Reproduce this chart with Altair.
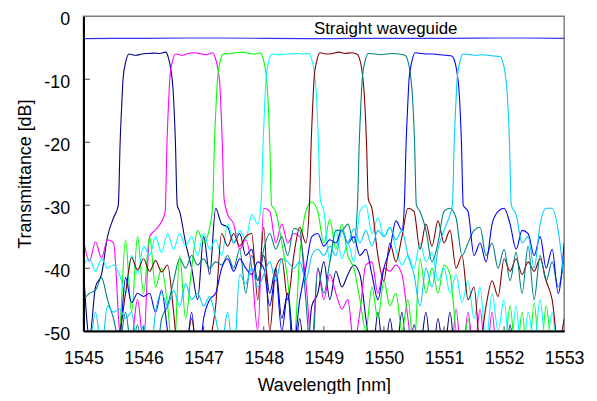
import altair as alt
import pandas as pd

N = None

# wavelength grid of the out-of-band floor readings (nm)
grid_start = 1545.0
grid_step = 0.1
grid_count = 81

# ---- out-of-band floor readings (dB), one per grid point; None = inside passband
floor_ch1 = [-40, -51, -43, -41, -35, -32,
             N, N, N, N, N, N, N, N, N, N,
             -31, -36, -40, -45, -35, -41, -30.5, -33, -33.5, -36, -34.5, -38,
             -37, -42, -38, -44, -40, -48, -44, -55, -48, -56, -46, -44, -39, -45,
             -40.5, -43, -41, -39.5, -41, -48, -55, -47, -55,
             -48, -54, -47, -56, -49, -53, -47, -55, -48, -54, -47, -55, -52, -58, -50,
             -56, -53, -58, -55, -57, -49, -56, -52, -58, -54, -57, -55, -58, -53, -56]
floor_ch2 = [-35.5, -38.9, -35.8, -38.4, -35.5, -36, -50, -55, -52, -45, -52, -35, -33.9, -32.6,
             N, N, N, N, N, N, N, N, N, N,
             -31.5, -33, -37, -35.5,
             -40, -50, -30.5, -31, -36, -33, -36, -34.5, -35, -42, -52, -40, -45, -41,
             -44, -46.5, -45, -52, -47, -39.5, -39, -44, -40, -40.5, -39.5, -41, -48, -55,
             -51, -56, -50, -55, -53, -57, -46.5, -55, -47, -54, -46.5, -55, -47, -56, -53,
             -57, -54, -58, -55, -57, -55, -58, -56, -57, -58]
floor_ch3 = [-58, -56, -57, -55, -56, -53, -50, -35.5, -47, -35, -44, -35, -43, -40, -46, -55,
             -38, -48, -40, -34, -36, -33.5,
             N, N, N, N, N, N, N, N, N, N,
             -31, -36, -42, -52, -38, -31, -29.5, -31, -36, -32.3, -37, -33, -38, -40, -45,
             -50, -43, -48, -42, -46, -44, -50, -45, -53, -38.5, -44, -40, -44, -39.5,
             -41, -50, -56, -48, -56, -50, -57, -52, -58, -55, -46, -55, -47, -56, -45.5,
             -55, -46, -54, -56, -53]
floor_ch4 = [-39.5, -38.5, -40.5, -38.5, -40, -39.5, -41, -44, -38, -41,
             -36.5, -38, -35, -37.5, -34.5, -37, -34.5, -36.5, -35, -38,
             -34.5, -37, -35.5, -38, -33, -36, -34, -35.5, -31.5, -33,
             N, N, N, N, N, N, N, N, N, N,
             -31, -39, -34, -38.5, -36, -39, -31, -30, -34.5, -32,
             -35, -33.5, -37, -39.5, -38, -40, -36, -39, -37.5, -42,
             -40, -44, -41, -45.5, -42, -48, -43, -52, -44, -50,
             -45, -54, -46, -55, -47, -52, -45, -53, -47, -55, -50]
floor_ch5 = [-58, -57, -56, -55, -53, -51, -50, -44, -38.3, -40.3, -38.5, -40.5, -38.8, -40.6,
             -39.5, -47, -56, -54, -48, -55, -56, -52, -46, -34.5, -36.5, -34.5, -36.5, -35,
             -34.5, -45, -33.5, -50, -40, -38.5, -45, -38, -33.5, -36,
             N, N, N, N, N, N, N, N, N, N,
             -30.5, -38, -42, -36, -39, -35, -30.5, -31, -37, -33,
             -36.5, -32.5, -36, -34, -40, -38, -45, -43, -52, -46, -42, -44.5, -38.5, -40.5,
             -38.5, -41, -39, -40.5, -38.5, -42, -45, -52, -48]
floor_ch6 = [-45, -44, -43.5, -41.5, -45, -48, -52, -47, -53, -49, -56, -50, -55, -48,
             -46, -42, -38.5, -40, -38, -39.5, -38.5, -40, -39, -39.5, -38, -40, -37, -44,
             -38, -42, -37, -34.5, -37, -35, -38, -33.7, -34, -45, -55, -40, -44, -39,
             -34, -34, -33, -36,
             N, N, N, N, N, N, N, N, N, N,
             -31, -34, -39, -36, -31, -30.5, -32, -38, -36, -34, -33.5, -38, -36, -40,
             -37, -42, -37.5, -44, -36.5, -45, -38, -42, -39, -43, -38.5]
floor_ch7 = [-56, -58, -57, -55, -56, -54, -52, -41.5, -45.5, -44, -44.5, -44, -47, -43.5,
             -50, -55, -52, -54, -47, -56, -48, -45, -44, -40, -38.5, -40.5, -38.5, -40,
             -41, -39, -40, -46, -41, -50, -44, -52, -45, -40, -35, -34.5, -36.5, -35.5,
             -36, -34, -36, -35, -38, -37, -41, -45, -40, -37, -32.5, -34,
             N, N, N, N, N, N, N, N, N, N,
             -31, -38, -36, -39, -33, -31, -30.5, -33, -37, -34, -34.5, -38, -35, -40,
             -37, -44, -36]
floor_ch8 = [-49, -52, -47, -53, -46, -47, -46.5, -48, -47, -53, -49, -55, -47, -44,
             -46, -43.5, -46, -42.5, -45, -44, -46, -44.5, -48, -52, -47, -55, -41, -42.5,
             -40, -43, -41, -39, -42, -38.5, -39, -40, -39, -42, -38, -37, -38, -36.5,
             -38, -34, -36, -33.7, -36, -34, -36.5, -34, -35, -33.5, -35.5, -34, -38, -41,
             -46, -40, -43, -37, -34, -31.5,
             N, N, N, N, N, N, N, N, N, N,
             -31.5, -36, -35, -40, -33, -30.5, -30.5, -34, -42]

# ---- passband readings: wavelengths (nm) and transmittance (dB)
band_wl_ch1 = [1545.58, 1545.61, 1545.64, 1545.66, 1545.70, 1545.76, 1545.87, 1545.97, 1546.07,
               1546.17, 1546.27, 1546.37, 1546.41, 1546.45, 1546.49, 1546.53, 1546.56]
band_db_ch1 = [-30, -20, -13.4, -9.8, -7.4, -6.0, -6.2, -6.0, -5.9, -5.85, -5.9, -5.7, -6.5, -8.2, -11.5, -20, -30]
band_wl_ch2 = [1546.36, 1546.39, 1546.42, 1546.44, 1546.48, 1546.54, 1546.65, 1546.75, 1546.85,
               1546.95, 1547.05, 1547.15, 1547.19, 1547.23, 1547.27, 1547.31, 1547.34]
band_db_ch2 = [-31, -20, -13, -9.5, -7.2, -6.0, -6.2, -5.9, -5.8, -5.95, -6.1, -5.8, -6.5, -8.0, -11.0, -20, -29]
band_wl_ch3 = [1547.15, 1547.18, 1547.21, 1547.23, 1547.27, 1547.33, 1547.44, 1547.54, 1547.64,
               1547.74, 1547.84, 1547.94, 1547.98, 1548.02, 1548.06, 1548.10, 1548.13]
band_db_ch3 = [-30, -20, -13.5, -10, -7.4, -6.0, -5.9, -5.8, -5.7, -5.85, -6.0, -5.8, -6.4, -8.0, -11.5, -20, -30]
band_wl_ch4 = [1547.96, 1547.99, 1548.02, 1548.04, 1548.08, 1548.14, 1548.25, 1548.35, 1548.45,
               1548.55, 1548.65, 1548.75, 1548.79, 1548.83, 1548.87, 1548.91, 1548.94]
band_db_ch4 = [-29, -20, -13, -9.8, -7.3, -6.0, -6.1, -6.0, -6.0, -5.9, -6.0, -5.9, -6.6, -8.2, -11.5, -20, -29]
band_wl_ch5 = [1548.76, 1548.79, 1548.82, 1548.84, 1548.88, 1548.94, 1549.05, 1549.15, 1549.25,
               1549.35, 1549.45, 1549.55, 1549.59, 1549.63, 1549.67, 1549.71, 1549.74]
band_db_ch5 = [-30, -20, -13.2, -9.6, -7.2, -5.8, -6.0, -5.9, -5.7, -5.9, -5.8, -6.0, -6.6, -8.3, -12, -20, -29]
band_wl_ch6 = [1549.56, 1549.59, 1549.62, 1549.64, 1549.68, 1549.74, 1549.85, 1549.95, 1550.05,
               1550.15, 1550.25, 1550.35, 1550.39, 1550.43, 1550.47, 1550.51, 1550.54]
band_db_ch6 = [-30, -20, -13.4, -9.8, -7.4, -5.9, -6.0, -6.1, -6.0, -5.9, -6.0, -6.2, -6.8, -8.5, -12, -20, -30]
band_wl_ch7 = [1550.34, 1550.37, 1550.40, 1550.42, 1550.46, 1550.52, 1550.63, 1550.73, 1550.83,
               1550.93, 1551.03, 1551.13, 1551.17, 1551.21, 1551.25, 1551.29, 1551.32]
band_db_ch7 = [-30, -20, -13.4, -9.8, -7.4, -5.8, -5.9, -6.0, -6.0, -6.1, -6.2, -6.3, -6.9, -8.5, -11.8, -20, -30]
band_wl_ch8 = [1551.14, 1551.17, 1551.20, 1551.22, 1551.26, 1551.32, 1551.43, 1551.53, 1551.63,
               1551.73, 1551.83, 1551.93, 1551.97, 1552.01, 1552.05, 1552.09, 1552.12]
band_db_ch8 = [-30, -20, -13.4, -9.8, -7.4, -6.0, -6.1, -6.2, -6.1, -6.2, -6.3, -6.4, -7.0, -8.6, -12, -20, -30]

# straight waveguide reference
wg_wl = [1545, 1546, 1547, 1548, 1549, 1550, 1551, 1552, 1553]
wg_db = [-3.55, -3.5, -3.45, -3.5, -3.55, -3.5, -3.5, -3.45, -3.5]

colors = ["#000080", "#FF00FF", "#00FF00", "#00FFFF", "#800000", "#008080", "#0000FF", "#00CCFF"]
floors = [floor_ch1, floor_ch2, floor_ch3, floor_ch4, floor_ch5, floor_ch6, floor_ch7, floor_ch8]
band_wls = [band_wl_ch1, band_wl_ch2, band_wl_ch3, band_wl_ch4, band_wl_ch5, band_wl_ch6, band_wl_ch7, band_wl_ch8]
band_dbs = [band_db_ch1, band_db_ch2, band_db_ch3, band_db_ch4, band_db_ch5, band_db_ch6, band_db_ch7, band_db_ch8]

x_ticks = [1545, 1546, 1547, 1548, 1549, 1550, 1551, 1552, 1553]
y_ticks = [-50, -40, -30, -20, -10, 0]
inner_x_ticks = [1546, 1547, 1548, 1549, 1550, 1551, 1552]
inner_y_ticks = [-40, -30, -20, -10]

FONT = "Liberation Sans"
wl_grid = [round(grid_start + grid_step * i, 2) for i in range(grid_count)]

x_scale = alt.Scale(domain=[1545, 1553], nice=False, zero=False)
y_scale = alt.Scale(domain=[-50, 0], nice=False, zero=False)

x_axis = alt.Axis(values=x_ticks, labelExpr="'' + datum.value", title="Wavelength [nm]",
                  ticks=False, tickSize=0, labelPadding=19, titlePadding=9,
                  labelFlush=False, labelOverlap=False, grid=False,
                  domainColor="black", domainWidth=2, zindex=1)
y_axis = alt.Axis(values=y_ticks, labelExpr="'' + datum.value", title="Transmittance [dB]",
                  ticks=False, tickSize=0, labelPadding=14, titlePadding=9, labelOffset=3,
                  labelFlush=False, labelOverlap=False, grid=False,
                  domainColor="black", domainWidth=2, zindex=1)

X = alt.X("wl:Q", scale=x_scale, axis=x_axis)
Y = alt.Y("db:Q", scale=y_scale, axis=y_axis)

layers = []
for col, fl, bw, bd in zip(colors, floors, band_wls, band_dbs):
    rows = [(w, v) for w, v in zip(wl_grid, fl) if v is not None] + list(zip(bw, bd))
    rows.sort()
    df = pd.DataFrame(rows, columns=["wl", "db"])
    layers.append(alt.Chart(df).mark_line(color=col, strokeWidth=1.1, clip=True,
                                          interpolate="monotone").encode(x=X, y=Y))

wg_df = pd.DataFrame({"wl": wg_wl, "db": wg_db})
layers.append(alt.Chart(wg_df).mark_line(color="#3333EE", strokeWidth=1.2, clip=True,
                                         interpolate="monotone").encode(x=X, y=Y))

label_df = pd.DataFrame({"wl": [1548.835], "db": [-2.05], "t": ["Straight waveguide"]})
layers.append(alt.Chart(label_df).mark_text(align="left", baseline="middle", fontSize=17,
                                            font=FONT, color="black").encode(x=X, y=Y, text="t:N"))

xt_df = pd.DataFrame({"wl": inner_x_ticks})
layers.append(alt.Chart(xt_df).mark_tick(orient="vertical", size=10, thickness=1, color="black",
                                         clip=True).encode(x=X, y=alt.datum(-50)))
yt_df = pd.DataFrame({"db": inner_y_ticks})
layers.append(alt.Chart(yt_df).mark_tick(orient="horizontal", size=13, thickness=1, color="black",
                                         clip=True).encode(x=alt.datum(1545), y=Y))

chart = alt.layer(*layers).properties(
    width=484, height=317,
    padding={"left": 76, "top": 7, "right": 25, "bottom": 62},
    autosize=alt.AutoSizeParams(type="none"),
    background="white",
).configure_view(stroke="#808080", strokeWidth=1.5).configure_axis(
    labelFont=FONT, titleFont=FONT, labelFontSize=18, titleFontSize=18,
    titleFontWeight="normal", labelColor="black", titleColor="black",
)

chart.save("out.html", embed_options={"renderer": "svg", "actions": False})
